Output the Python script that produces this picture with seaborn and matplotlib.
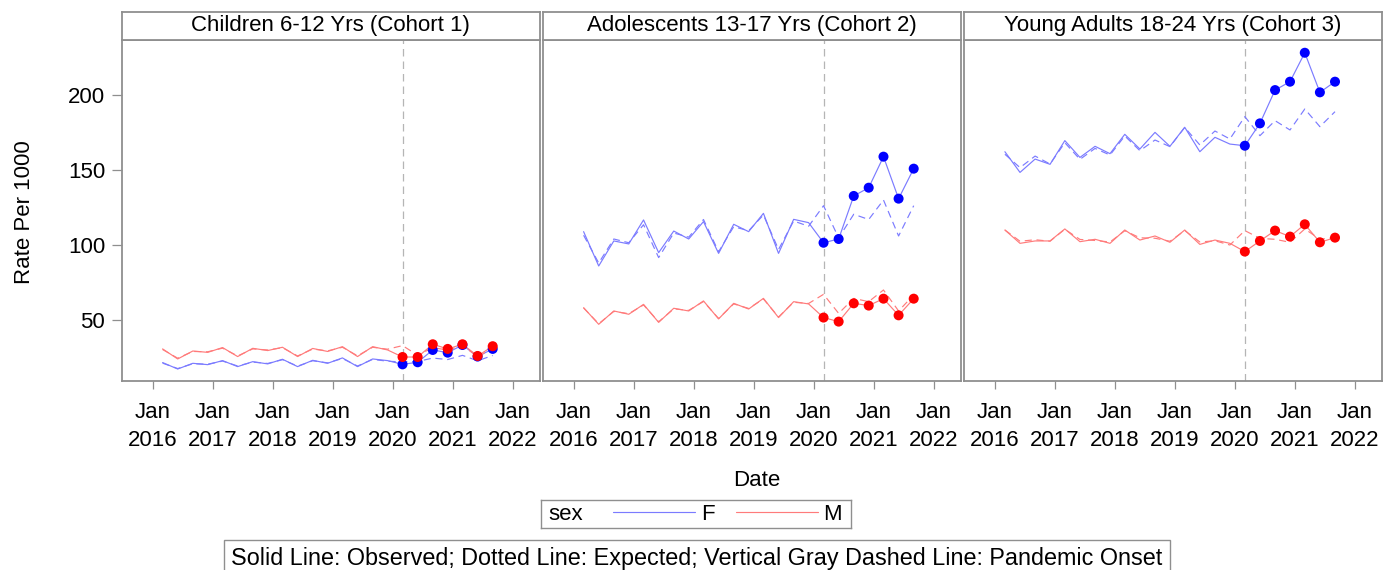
import numpy as np
import pandas as pd
import matplotlib
matplotlib.use("Agg")
import matplotlib.pyplot as plt
from matplotlib.lines import Line2D
import seaborn as sns

# ---------------- data ----------------
cohorts = ["Children 6-12 Yrs (Cohort 1)",
           "Adolescents 13-17 Yrs (Cohort 2)",
           "Young Adults 18-24 Yrs (Cohort 3)"]
dates = pd.date_range("2016-03-01", periods=23, freq="3MS")
pandemic_onset = pd.Timestamp("2020-03-01")
tick_years = [2016, 2017, 2018, 2019, 2020, 2021, 2022]
tick_labels = [f"Jan\n{y}" for y in tick_years]
y_ticks = [50, 100, 150, 200]

c1_f_obs = [21.6, 17.3, 21.1, 20.2, 22.9, 18.9, 22.2, 20.7, 23.8, 18.9, 23.1, 21.1,
            24.7, 18.9, 24.0, 22.9, 20.4, 21.8, 30.0, 28.2, 33.3, 25.6, 30.7]
c1_f_exp = [21.2, 17.6, 20.8, 20.5, 22.6, 19.3, 21.9, 21.0, 23.5, 19.2, 22.8, 21.4,
            24.3, 19.3, 23.7, 22.5, 22.0, 22.3, 24.6, 23.6, 26.4, 22.8, 26.3]
c1_m_obs = [30.7, 24.0, 29.3, 28.4, 31.6, 25.6, 31.1, 29.6, 31.8, 25.6, 31.0, 29.0,
            32.2, 25.6, 32.2, 30.0, 25.3, 25.3, 33.8, 30.7, 33.8, 26.0, 32.5]
c1_m_exp = [30.3, 24.5, 29.0, 28.8, 31.2, 26.0, 30.7, 30.0, 31.5, 26.0, 30.6, 29.4,
            31.8, 26.1, 31.8, 30.5, 32.9, 26.5, 31.5, 30.0, 33.0, 25.5, 31.0]

c2_f_obs = [108.9, 86.0, 102.7, 100.7, 116.7, 94.9, 109.3, 104.0, 115.6, 94.4, 113.8, 108.9,
            121.1, 94.4, 117.1, 114.9, 101.5, 104.0, 132.7, 138.2, 158.9, 130.9, 150.9]
c2_f_exp = [106.5, 88.0, 104.0, 101.5, 113.5, 91.6, 108.0, 105.2, 117.0, 95.5, 112.2, 109.5,
            120.0, 97.0, 116.0, 112.5, 126.2, 104.7, 120.5, 117.0, 130.0, 106.0, 126.2]
c2_m_obs = [58.2, 47.1, 56.0, 53.8, 60.4, 48.4, 57.8, 56.0, 62.7, 50.7, 61.1, 57.3,
            64.4, 51.6, 62.2, 60.7, 51.6, 48.9, 61.1, 59.6, 64.2, 53.1, 64.2]
c2_m_exp = [58.0, 47.5, 55.7, 54.2, 60.0, 48.8, 57.4, 56.4, 62.3, 51.0, 60.7, 57.7,
            64.0, 52.0, 61.8, 61.0, 67.1, 54.4, 64.4, 62.2, 70.0, 56.0, 66.7]

c3_f_obs = [162.2, 148.4, 157.3, 153.8, 169.6, 158.4, 165.8, 160.9, 173.8, 164.0, 175.1, 165.8,
            178.5, 162.2, 171.8, 167.3, 166.2, 181.1, 203.3, 208.9, 228.2, 201.8, 208.9]
c3_f_exp = [160.5, 151.6, 159.3, 154.0, 168.2, 157.1, 164.4, 160.0, 172.7, 162.9, 170.0, 165.6,
            178.4, 166.7, 176.0, 170.7, 185.6, 172.9, 182.9, 176.7, 190.7, 178.9, 188.9]
c3_m_obs = [110.0, 101.1, 102.7, 102.7, 110.7, 102.2, 103.8, 101.1, 110.0, 103.3, 106.0, 101.8,
            110.0, 100.4, 103.3, 101.1, 95.6, 102.7, 109.6, 105.6, 113.8, 101.8, 104.9]
c3_m_exp = [110.0, 102.5, 103.5, 102.5, 110.5, 103.7, 103.0, 102.0, 109.5, 104.8, 104.5, 102.5,
            109.6, 102.0, 102.8, 100.0, 109.6, 104.4, 103.8, 101.8, 110.7, 103.8, 105.1]

series = {
    cohorts[0]: {("F", "Observed"): c1_f_obs, ("F", "Expected"): c1_f_exp,
                 ("M", "Observed"): c1_m_obs, ("M", "Expected"): c1_m_exp},
    cohorts[1]: {("F", "Observed"): c2_f_obs, ("F", "Expected"): c2_f_exp,
                 ("M", "Observed"): c2_m_obs, ("M", "Expected"): c2_m_exp},
    cohorts[2]: {("F", "Observed"): c3_f_obs, ("F", "Expected"): c3_f_exp,
                 ("M", "Observed"): c3_m_obs, ("M", "Expected"): c3_m_exp},
}

rows = []
for cohort, d in series.items():
    for (sex, typ), vals in d.items():
        for dt, v in zip(dates, vals):
            rows.append({"cohort": cohort, "sex": sex, "type": typ, "date": dt, "rate": v})
df = pd.DataFrame(rows)

# ---------------- style ----------------
sns.set_theme(style="white")
plt.rcParams["font.family"] = ["Liberation Sans", "DejaVu Sans"]
plt.rcParams["text.color"] = "black"
FS = 16
GRAY = "#8f8f8f"
palette = {"F": "#0000ff", "M": "#ff0000"}
light = {"F": "#7b7bff", "M": "#ff7b7b"}

W, H = 1384, 570
fig = plt.figure(figsize=(W / 100, H / 100), dpi=100)

panel_left = [121.7, 542.7, 964.0]
pw, ph = 418.3, 341.0
top_px, bot_px = 40.0, 381.0
header_px = 28.0

xlim = (pd.Timestamp("2015-06-26"), pd.Timestamp("2022-06-16"))
ylim = (9.3, 236.7)

axes = []
for i, (cohort, lp) in enumerate(zip(cohorts, panel_left)):
    ax = fig.add_axes([lp / W, (H - bot_px) / H, pw / W, ph / H])
    axes.append(ax)
    sub = df[df.cohort == cohort]
    sns.lineplot(data=sub, x="date", y="rate", hue="sex", style="type",
                 palette=light, style_order=["Observed", "Expected"],
                 dashes={"Observed": "", "Expected": (6, 4)},
                 linewidth=0.85, estimator=None, legend=False, ax=ax)
    post = sub[(sub.type == "Observed") & (sub.date >= pandemic_onset)]
    sns.scatterplot(data=post, x="date", y="rate", hue="sex", palette=palette,
                    s=52, edgecolor="none", legend=False, ax=ax, zorder=4)
    ax.axvline(pandemic_onset, color="#b5b5b5", lw=0.9, ls=(0, (6, 4)), zorder=1)

    ax.set_xlim(*xlim)
    ax.set_ylim(*ylim)
    ax.set_xticks([pd.Timestamp(f"{y}-01-01") for y in tick_years])
    ax.set_xticklabels(tick_labels, fontsize=FS)
    for lbl in ax.get_xticklabels():
        lbl.set_linespacing(1.42)
    ax.set_xlabel("")
    ax.set_ylabel("")
    ax.tick_params(axis="x", direction="out", length=6, width=0.9, color=GRAY,
                   labelcolor="black", pad=9, labelsize=FS, bottom=True)
    if i == 0:
        ax.set_yticks(y_ticks)
        ax.set_yticklabels([str(v) for v in y_ticks], fontsize=FS)
        ax.tick_params(axis="y", direction="out", length=7, width=0.9, color=GRAY,
                       labelcolor="black", pad=5, labelsize=FS, left=True)
    else:
        ax.set_yticks([])
    for sp in ax.spines.values():
        sp.set_color(GRAY)
        sp.set_linewidth(1.3)

    hax = ax.inset_axes([0, 1, 1, header_px / ph])
    hax.set_xticks([])
    hax.set_yticks([])
    for sp in hax.spines.values():
        sp.set_color(GRAY)
        sp.set_linewidth(1.3)
    hax.text(0.5, 0.5, cohort, ha="center", va="center", fontsize=FS,
             color="black", transform=hax.transAxes)

fig.text(25 / W, 1 - 212 / H, "Rate Per 1000", rotation=90, ha="center",
         va="center", fontsize=FS, color="black")
fig.text(757 / W, 1 - 480 / H, "Date", ha="center", va="center", fontsize=FS,
         color="black")

# legend box
lax = fig.add_axes([541 / W, 1 - 528 / H, 310 / W, 28 / H])
lax.set_xticks([])
lax.set_yticks([])
for sp in lax.spines.values():
    sp.set_color(GRAY)
    sp.set_linewidth(1.0)
lax.text(7 / 310, 0.5, "sex", ha="left", va="center", fontsize=FS,
         color="black", transform=lax.transAxes)
handles = [Line2D([], [], color=light["F"], lw=0.85),
           Line2D([], [], color=light["M"], lw=0.85)]
lg = lax.legend(handles, ["F", "M"], ncol=2, loc="center left",
                bbox_to_anchor=(72 / 310, 0.5), frameon=False, fontsize=FS,
                handlelength=3.7, handletextpad=0.25, columnspacing=0.95,
                borderpad=0, borderaxespad=0)
for t in lg.get_texts():
    t.set_color("black")

fig.text(697 / W, 1 - 558 / H,
         "Solid Line: Observed; Dotted Line: Expected; Vertical Gray Dashed Line: Pandemic Onset",
         ha="center", va="center", fontsize=16.8, color="black",
         bbox=dict(boxstyle="square,pad=0.3", fc="white", ec=GRAY, lw=1.0))

fig.savefig("out.png", dpi=100)
